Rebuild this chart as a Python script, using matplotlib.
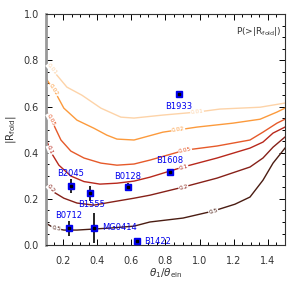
import numpy as np
import matplotlib.pyplot as plt

# lens data
names = ['B1933', 'B2045', 'B1555', 'B0128', 'B1608', 'B0712', 'MG0414', 'B1422']
theta = [0.879, 0.246, 0.358, 0.580, 0.826, 0.235, 0.381, 0.633]
rfold = [0.654, 0.255, 0.225, 0.251, 0.316, 0.074, 0.074, 0.017]
err_lo = [0.0, 0.030, 0.035, 0.012, 0.0, 0.034, 0.065, 0.0]
err_hi = [0.0, 0.031, 0.030, 0.016, 0.0, 0.030, 0.066, 0.0]

# probability contours P(>|R_fold|)
levels = ['0.01', '0.02', '0.05', '0.1', '0.2', '0.5']
cx = {
    '0.01': [0.10, 0.164, 0.223, 0.311, 0.422, 0.539, 0.616, 0.785, 0.985, 1.119, 1.354, 1.50],
    '0.02': [0.10, 0.164, 0.205, 0.282, 0.381, 0.457, 0.516, 0.616, 0.785, 0.985, 1.195, 1.354, 1.453, 1.50],
    '0.05': [0.10, 0.147, 0.188, 0.246, 0.323, 0.422, 0.516, 0.616, 0.709, 0.914, 1.102, 1.295, 1.371, 1.453, 1.50],
    '0.1': [0.10, 0.129, 0.176, 0.246, 0.323, 0.416, 0.516, 0.616, 0.709, 0.903, 1.102, 1.295, 1.371, 1.430, 1.50],
    '0.2': [0.10, 0.147, 0.205, 0.282, 0.381, 0.481, 0.616, 0.709, 0.903, 1.102, 1.295, 1.371, 1.430, 1.50],
    '0.5': [0.10, 0.147, 0.205, 0.282, 0.481, 0.616, 0.709, 0.903, 1.078, 1.207, 1.295, 1.371, 1.430, 1.50],
}
cy = {
    '0.01': [0.792, 0.736, 0.684, 0.649, 0.593, 0.554, 0.550, 0.563, 0.576, 0.589, 0.597, 0.615],
    '0.02': [0.723, 0.649, 0.593, 0.541, 0.506, 0.476, 0.459, 0.455, 0.489, 0.511, 0.528, 0.545, 0.576, 0.593],
    '0.05': [0.584, 0.519, 0.455, 0.407, 0.377, 0.355, 0.346, 0.351, 0.368, 0.411, 0.429, 0.455, 0.489, 0.528, 0.545],
    '0.1': [0.463, 0.403, 0.346, 0.299, 0.275, 0.264, 0.268, 0.277, 0.294, 0.338, 0.377, 0.420, 0.446, 0.485, 0.511],
    '0.2': [0.268, 0.229, 0.203, 0.182, 0.173, 0.186, 0.203, 0.216, 0.251, 0.290, 0.338, 0.377, 0.424, 0.468],
    '0.5': [0.095, 0.074, 0.065, 0.065, 0.074, 0.082, 0.100, 0.117, 0.147, 0.177, 0.208, 0.281, 0.355, 0.420],
}
colors = ['#fdd3a8', '#fc9a3c', '#e65a2a', '#b8281c', '#862018', '#4a1c12']
# x positions of the inline labels (left and right)
lab_x = {'0.01': [0.135, 0.985], '0.02': [0.145, 0.875], '0.05': [0.13, 0.915],
         '0.1': [0.125, 0.905], '0.2': [0.13, 0.905], '0.5': [0.16, 1.08]}

fig = plt.figure(figsize=(3.0, 2.83), dpi=100)
ax = fig.add_axes([0.153, 0.134, 0.797, 0.816])
ax.set_xlim(0.1, 1.5)
ax.set_ylim(0.0, 1.0)

for lev, col in zip(levels, colors):
    ax.plot(cx[lev], cy[lev], color=col, lw=1.0, zorder=2)

fig.canvas.draw()
for lev, col in zip(levels, colors):
    for xl in lab_x[lev]:
        yl = np.interp(xl, cx[lev], cy[lev])
        p1 = ax.transData.transform((xl - 0.01, np.interp(xl - 0.01, cx[lev], cy[lev])))
        p2 = ax.transData.transform((xl + 0.01, np.interp(xl + 0.01, cx[lev], cy[lev])))
        ang = np.degrees(np.arctan2(p2[1] - p1[1], p2[0] - p1[0]))
        ax.text(xl, yl, lev, color=col, fontsize=4.2, rotation=ang, rotation_mode='anchor',
                ha='center', va='center', zorder=3,
                bbox=dict(facecolor='white', edgecolor='none', pad=0.3))

ax.errorbar(theta, rfold, yerr=[err_lo, err_hi], fmt='none', ecolor='black', elinewidth=1.2, zorder=4)
ax.plot(theta, rfold, 's', color='#0000ee', markersize=5, zorder=5)
ax.plot(theta, rfold, 's', color='black', markersize=1.6, zorder=6)

offsets = {'B1933': (0, -9, 'center'), 'B2045': (0, 9, 'center'), 'B1555': (1, -8, 'center'),
           'B0128': (0, 8, 'center'), 'B1608': (0, 8, 'center'), 'B0712': (0, 9, 'center'),
           'MG0414': (6, 0, 'left'), 'B1422': (5, 0, 'left')}
for n, xv, yv in zip(names, theta, rfold):
    dx, dy, ha = offsets[n]
    ax.annotate(n, (xv, yv), xytext=(dx, dy), textcoords='offset points', ha=ha, va='center',
                color='#0000ee', fontsize=6, zorder=7)

ax.set_xticks(np.arange(0.2, 1.41, 0.2))
ax.set_yticks(np.arange(0.0, 1.01, 0.2))
ax.set_xticks(np.arange(0.1, 1.501, 0.05), minor=True)
ax.set_yticks(np.arange(0.0, 1.001, 0.05), minor=True)
ax.xaxis.set_major_formatter(plt.FormatStrFormatter('%.1f'))
ax.yaxis.set_major_formatter(plt.FormatStrFormatter('%.1f'))
ax.tick_params(which='both', direction='in', top=True, right=True, labelsize=7,
               labelcolor='#333333', width=0.7)
ax.tick_params(which='major', length=4, pad=5)
ax.tick_params(axis='x', which='major', pad=8)
ax.tick_params(which='minor', length=2)
for s in ['top', 'right', 'bottom']:
    ax.spines[s].set_linewidth(0.8)
    ax.spines[s].set_color('#333333')
ax.spines['left'].set_color('#999999')
ax.spines['left'].set_linewidth(2)

ax.set_xlabel(r'$\theta_1/\theta_{\rm ein}$', fontsize=7.5, color='#333333', labelpad=0)
ax.set_ylabel(r'$|\mathrm{R_{fold}}|$', fontsize=7.5, color='#333333', labelpad=4)
ax.text(0.985, 0.955, r'P(>|R$_{\rm fold}$|)', transform=ax.transAxes, ha='right', va='top',
        fontsize=6.5, color='#333333')

fig.savefig('out.png', dpi=100)
